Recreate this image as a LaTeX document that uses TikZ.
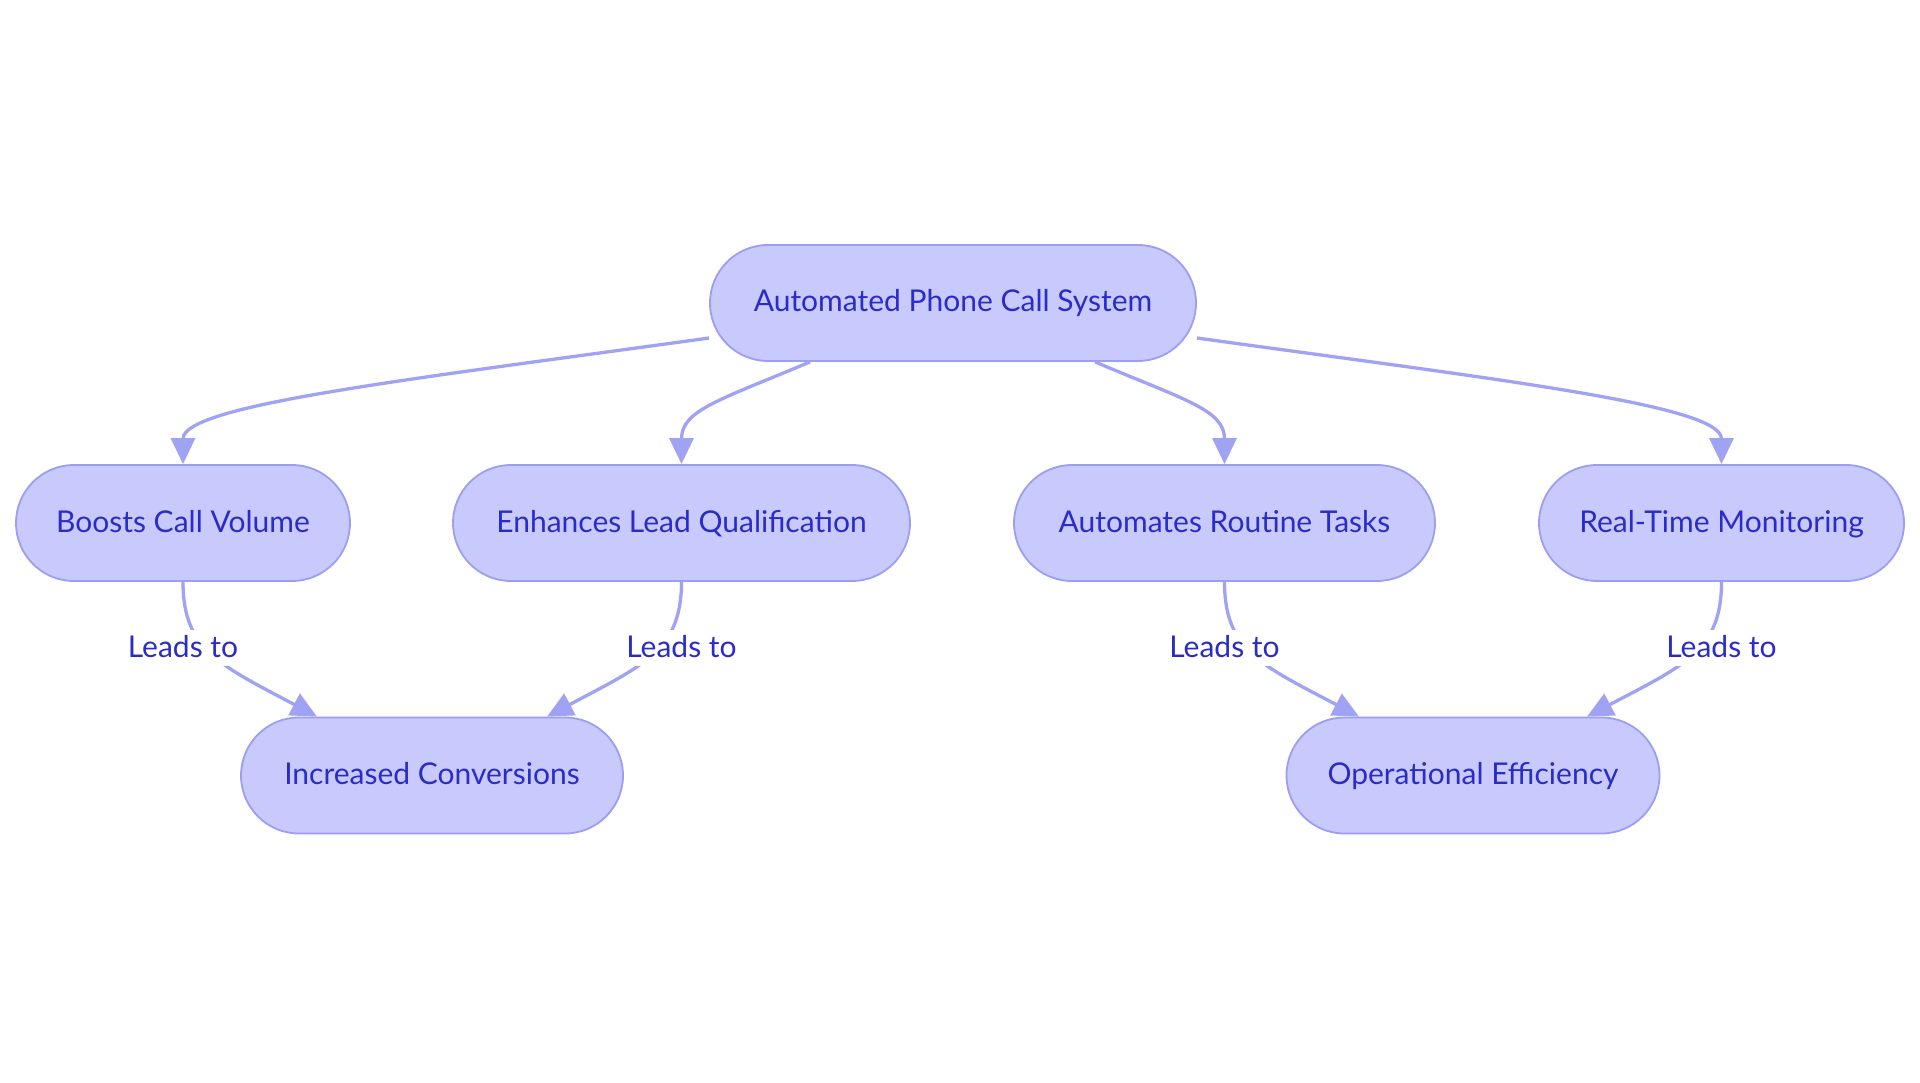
\documentclass[tikz,border=0pt]{standalone}
\usepackage{fontspec}
\setmainfont{Lato}
\usetikzlibrary{arrows.meta,calc}
\definecolor{boxfill}{HTML}{C8C9FC}
\definecolor{boxline}{HTML}{9C9EF2}
\definecolor{flowline}{HTML}{A0A3F3}
\definecolor{boxtext}{HTML}{2B2BC8}
\tikzset{box/.style={draw=boxline, fill=boxfill, line width=1.8pt, rounded corners=58pt, minimum height=116pt, inner sep=0pt, text=boxtext, font=\fontsize{30}{36}\selectfont, text height=18pt, text depth=0pt},
  lbl/.style={fill=white, text=boxtext, font=\fontsize{30}{36}\selectfont, inner sep=1pt, text height=26pt, text depth=8pt},
  flow/.style={draw=flowline, line width=3.3pt, -{Triangle[width=24pt,length=26pt]}}}

\begin{document}
\begin{tikzpicture}[x=1pt,y=-1pt]
  \fill[white] (0,0) rectangle (1920,1083);
  % nodes
  \node[box, minimum width=486pt] (sys)   at ( 953.0,303.0) {Automated Phone Call System};
  \node[box, minimum width=334pt] (boost) at ( 183.0,523.0) {Boosts Call Volume};
  \node[box, minimum width=457pt] (enh)   at ( 681.5,523.0) {Enhances Lead Qualification};
  \node[box, minimum width=421pt] (auto)  at (1224.5,523.0) {Automates Routine Tasks};
  \node[box, minimum width=365pt] (real)  at (1721.5,523.0) {Real-Time Monitoring};
  \node[box, minimum width=382pt] (inc)   at ( 432.0,775.5) {Increased Conversions};
  \node[box, minimum width=373pt] (ops)   at (1473.0,775.5) {Operational Efficiency};
  % first level
  \draw[flow] ($(sys.west)+(0,35)$)   .. controls ( 406,380) and ( 183.0,405) .. (boost.north);
  \draw[flow] ($(sys.south)+(-143,0)$) .. controls ( 720,400) and ( 681.5,410) .. (enh.north);
  \draw[flow] ($(sys.south)+(142,0)$)  .. controls (1185,400) and (1224.5,410) .. (auto.north);
  \draw[flow] ($(sys.east)+(0,35)$)   .. controls (1500,380) and (1721.5,405) .. (real.north);
  % second level
  \draw[flow] (boost.south) .. controls ( 183.0,650) and ( 220,665) .. ($(inc.north)+(-115,0)$);
  \draw[flow] (enh.south)   .. controls ( 681.5,650) and ( 644,665) .. ($(inc.north)+(115,0)$);
  \draw[flow] (auto.south)  .. controls (1224.5,650) and (1261,665) .. ($(ops.north)+(-114,0)$);
  \draw[flow] (real.south)  .. controls (1721.5,650) and (1685,665) .. ($(ops.north)+(114,0)$);
  \node[lbl] (lb1) at ( 183.0,648) {Leads to};
  \node[lbl] (lb2) at ( 681.5,648) {Leads to};
  \node[lbl] (lb3) at (1224.5,648) {Leads to};
  \node[lbl] (lb4) at (1721.5,648) {Leads to};
\end{tikzpicture}
\end{document}
